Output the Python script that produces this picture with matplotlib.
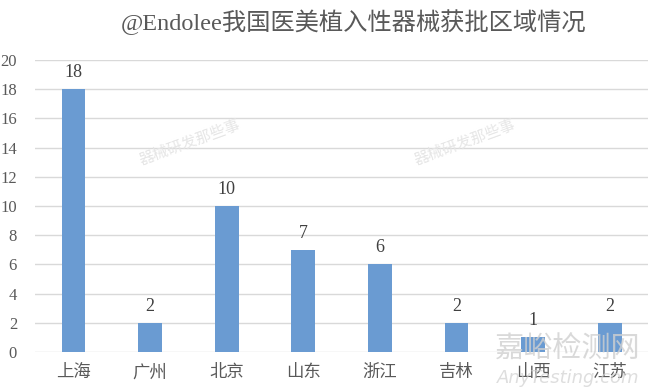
import matplotlib

matplotlib.use("Agg")

import matplotlib.pyplot as plt
import numpy as np

regions = ["上海", "广州", "北京", "山东", "浙江", "吉林", "山西", "江苏"]
counts = [18, 2, 10, 7, 6, 2, 1, 2]
y_ticks = [0, 2, 4, 6, 8, 10, 12, 14, 16, 18, 20]

TITLE = "@Endolee我国医美植入性器械获批区域情况"
BAR_COLOR = "#6A9BD2"
TEXT_COLOR = "#595959"
GRID_COLOR = "#D9D9D9"

CJK = ["Noto Sans CJK SC", "DejaVu Sans"]
SERIF = ["Liberation Serif", "Noto Sans CJK SC"]

plt.rcParams["font.family"] = SERIF

fig = plt.figure(figsize=(6.5, 3.92), dpi=100)
fig.patch.set_facecolor("white")
ax = fig.add_axes([0.054, 0.102, 0.943, 0.745])

x = np.arange(len(regions))
ax.bar(x, counts, width=0.31, color=BAR_COLOR, zorder=3)

for xi, v in zip(x, counts):
    ax.text(xi, v + 0.55, str(v), ha="center", va="bottom",
            fontsize=13, color="#404040", zorder=4)

ax.set_xlim(-0.5, len(regions) - 0.5)
ax.set_ylim(0, 20)
ax.set_yticks(y_ticks)
ax.set_yticklabels([str(t) for t in y_ticks], fontsize=12, color=TEXT_COLOR)
ax.set_xticks(x)
ax.set_xticklabels(regions, family=CJK, fontsize=12.5, color=TEXT_COLOR)
ax.tick_params(axis="both", length=0)
ax.tick_params(axis="y", pad=13)
ax.tick_params(axis="x", pad=8)
ax.grid(axis="y", color=GRID_COLOR, linewidth=1.0, zorder=0)
for spine in ax.spines.values():
    spine.set_visible(False)

fig.text(354 / 650, 1 - 22 / 392, TITLE, ha="center", va="center",
         fontsize=17.5, color=TEXT_COLOR, family=SERIF)

# watermarks
for wx in (190 / 650, 465 / 650):
    fig.text(wx, 1 - 142 / 392, "器械研发那些事", ha="center", va="center",
             rotation=20, fontsize=11, color="#E6E6E6", family=CJK, zorder=0)
fig.text(568 / 650, 1 - 350 / 392, "嘉峪检测网", ha="center", va="center",
         fontsize=21, color="#D0D0D0", alpha=0.8, family=CJK, zorder=5)
fig.text(568 / 650, 1 - 378 / 392, "AnyTesting.com", ha="center", va="center",
         fontsize=13, color="#D0D0D0", alpha=0.7, style="italic",
         family=["DejaVu Sans"], zorder=5)

fig.savefig("out.png", dpi=100, facecolor="white")
